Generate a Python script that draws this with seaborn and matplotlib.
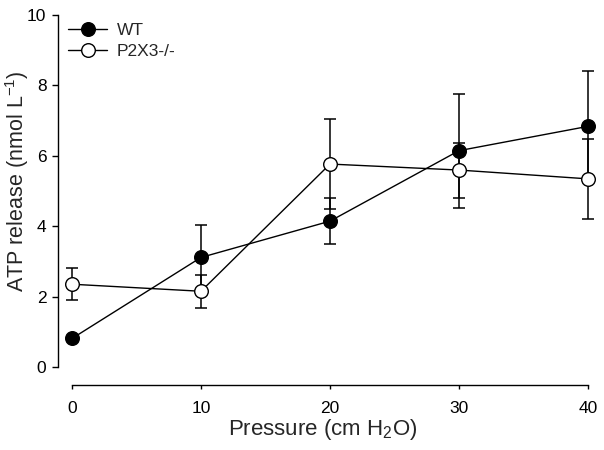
import matplotlib
matplotlib.use("Agg")
import matplotlib.pyplot as plt
import seaborn as sns
import pandas as pd

pressure = [0, 10, 20, 30, 40]
wt_mean = [0.82, 3.12, 4.15, 6.15, 6.84]
wt_err = [0.08, 0.93, 0.66, 1.62, 1.58]
ko_mean = [2.36, 2.16, 5.77, 5.60, 5.35]
ko_err = [0.46, 0.47, 1.28, 0.78, 1.13]
series_names = ["WT", "P2X3-/-"]

sns.set_style("ticks")
plt.rcParams["font.family"] = ["Liberation Sans", "DejaVu Sans"]
plt.rcParams["mathtext.fontset"] = "custom"
plt.rcParams["mathtext.rm"] = "Liberation Sans"
plt.rcParams["mathtext.it"] = "Liberation Sans:italic"

df = pd.DataFrame({
    "Pressure": pressure * 2,
    "ATP": wt_mean + ko_mean,
    "err": wt_err + ko_err,
    "Group": [series_names[0]] * 5 + [series_names[1]] * 5,
})

fig = plt.figure(figsize=(6.04, 4.5), dpi=100)
ax = fig.add_axes([58 / 604, 65 / 450, 530 / 604, 370 / 450])

# error bars first (behind markers)
for name in series_names:
    sub = df[df["Group"] == name]
    ax.errorbar(sub["Pressure"], sub["ATP"], yerr=sub["err"], fmt="none",
                ecolor="black", elinewidth=1.1, capsize=4, capthick=1.1,
                zorder=2, clip_on=False)

sns.lineplot(data=df, x="Pressure", y="ATP", hue="Group", style="Group",
             palette={"WT": "black", "P2X3-/-": "black"},
             markers={"WT": "o", "P2X3-/-": "o"}, dashes=False,
             linewidth=1.0, ax=ax, legend=False, zorder=3)

for line, name in zip(ax.lines[-2:], series_names):
    line.set_markersize(9.8)
    line.set_markeredgecolor("black")
    line.set_markeredgewidth(1.0)
    line.set_markerfacecolor("black" if name == "WT" else "white")
    line.set_clip_on(False)
    line.set_label(name)

ax.set_xlim(-1.085, 40)
ax.set_ylim(-0.5, 10)
ax.set_xticks([0, 10, 20, 30, 40])
ax.set_yticks([0, 2, 4, 6, 8, 10])
sns.despine(ax=ax)
ax.spines["left"].set_bounds(0, 10)
ax.spines["bottom"].set_bounds(0, 40)
for s in ["left", "bottom"]:
    ax.spines[s].set_linewidth(1.0)
    ax.spines[s].set_color("black")
ax.tick_params(axis="y", direction="out", length=4.3, width=1.0,
               labelsize=12.5, colors="black", pad=4)
ax.tick_params(axis="x", direction="out", length=3.0, width=1.0,
               labelsize=12.5, colors="black", pad=8.5)

ax.set_xlabel("Pressure (cm H$_2$O)", fontsize=16, labelpad=1.0)
ax.set_ylabel("ATP release (nmol L$^{-1}$)", fontsize=15.5)
ax.yaxis.set_label_coords(-0.050, 0.551)

ax.legend(handles=ax.lines[-2:], labels=series_names, loc="upper left",
          bbox_to_anchor=(0.0, 1.007), frameon=False, fontsize=12.5,
          handlelength=2.2, handletextpad=0.6, borderaxespad=0.3,
          borderpad=0.3, labelspacing=0.35)

fig.savefig("out.png", dpi=100)
